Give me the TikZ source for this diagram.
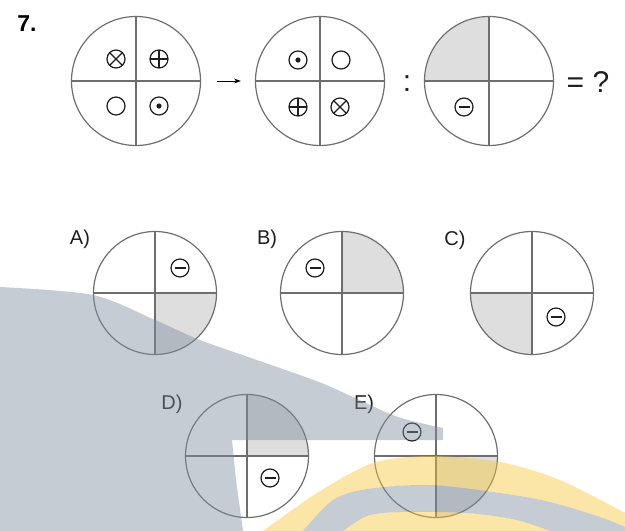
\documentclass[tikz,border=0pt]{standalone}
\usepackage{fontspec}
\setmainfont{Liberation Sans}
\definecolor{discgray}{RGB}{110,110,110}
\definecolor{quadfill}{RGB}{222,222,222}
\definecolor{inkdark}{RGB}{30,30,30}
\definecolor{wmgray}{RGB}{126,142,159}
\definecolor{wmyellow}{RGB}{248,200,60}
\usetikzlibrary{arrows.meta}
\tikzset{
  % Quartered disc (#1 = corner of the shaded quadrant).
  disc/.style={
    circle, draw=discgray, line width=1.2pt, inner sep=0pt,
    path picture={
      \fill[quadfill] (path picture bounding box.center)
        rectangle (path picture bounding box.#1);
      \draw[discgray, line width=1.2pt]
        (path picture bounding box.north) -- (path picture bounding box.south)
        (path picture bounding box.west) -- (path picture bounding box.east);
    },
  },
  disc/.default=center,
  disc-big/.style={minimum size=129pt},
  disc-small/.style={minimum size=123pt},
  % Small symbols inside the quadrants.
  sym/.style={circle, draw=inkdark, line width=1.25pt, minimum size=18pt, inner sep=0pt},
  sym-x/.style={sym, path picture={
      \draw[inkdark, line width=1.2pt]
        (path picture bounding box.north west) -- (path picture bounding box.south east)
        (path picture bounding box.north east) -- (path picture bounding box.south west);}},
  sym-plus/.style={sym, path picture={
      \draw[inkdark, line width=1.2pt]
        (path picture bounding box.north) -- (path picture bounding box.south)
        (path picture bounding box.west) -- (path picture bounding box.east);}},
  sym-dot/.style={sym, path picture={
      \fill[inkdark] (path picture bounding box.center) circle[radius=2.6pt];}},
  sym-minus/.style={sym, path picture={
      \draw[inkdark, line width=1.6pt]
        ([xshift=3.5pt]path picture bounding box.west) -- ([xshift=-3.5pt]path picture bounding box.east);}},
  % Texts.
  opt-label/.style={font=\fontsize{20}{24}\selectfont, text=inkdark, inner sep=0pt},
  big-text/.style={font=\fontsize{30}{34}\selectfont, text=inkdark, inner sep=0pt},
  % Watermark left in the scan.
  mark/.style={fill=#1, opacity=0.45},
}

\begin{document}
\begin{tikzpicture}[x=1pt, y=1pt]
  \useasboundingbox (0,0) rectangle (625,-531);

  % Task number.
  \node[font=\fontsize{23}{26}\selectfont\bfseries, inner sep=0pt] (num) at (27,-24) {7.};

  % Question row.
  \node[disc, disc-big] (q1) at (136,-81) {};
  \node[disc, disc-big] (q2) at (320,-81) {};
  \node[disc=north west, disc-big] (q3) at (489,-81) {};

  \node[sym-x]    (s1a) at (116,-59) {};
  \node[sym-plus] (s1b) at (159,-59) {};
  \node[sym]      (s1c) at (116,-106) {};
  \node[sym-dot]  (s1d) at (159,-106) {};

  \node[sym-dot]  (s2a) at (298,-60) {};
  \node[sym]      (s2b) at (341,-60) {};
  \node[sym-plus] (s2c) at (298,-107) {};
  \node[sym-x]    (s2d) at (340,-107) {};

  \node[sym-minus] (s3c) at (464,-107) {};

  \draw[-{Stealth[length=7pt, width=5pt]}, line width=0.9pt,
    shorten <=16pt, shorten >=14pt] (q1) -- (q2);
  \node[big-text] (colon) at (407,-84) {:};
  \node[big-text] (ask) at (588,-82) {= ?};

  % Answer options.
  \node[disc=south east, disc-small] (optA) at (155,-293) {};
  \node[disc=north east, disc-small] (optB) at (342,-293) {};
  \node[disc=south west, disc-small] (optC) at (532,-293) {};
  \node[disc=north east, disc-small] (optD) at (247,-456) {};
  \node[disc=south east, disc-small] (optE) at (436,-456) {};

  \node[sym-minus] (mA) at (180,-268) {};
  \node[sym-minus] (mB) at (315,-268) {};
  \node[sym-minus] (mC) at (556,-317) {};
  \node[sym-minus] (mD) at (270,-478) {};
  \node[sym-minus] (mE) at (412,-432) {};

  \node[opt-label] (labA) at (80,-239) {A)};
  \node[opt-label] (labB) at (267,-239) {B)};
  \node[opt-label] (labC) at (455,-240) {C)};
  \node[opt-label] (labD) at (172,-404) {D)};
  \node[opt-label] (labE) at (364,-404) {E)};

  % Watermark on top.
  \fill[mark=wmgray]
    plot[smooth, tension=0.5] coordinates {(0,-287) (93,-295) (155,-320) (200,-340)
      (257,-360) (319,-382) (353,-397) (398,-417) (443,-428)}
    -- (443,-440) -- (232,-440) -- (236,-480) -- (243,-531) -- (0,-531) -- cycle;
  \fill[mark=wmyellow, even odd rule]
    plot[smooth, tension=0.5] coordinates {(263,-531) (317,-493) (373,-463) (430,-456)
      (500,-462) (560,-480) (625,-513)}
    -- (625,-531) -- cycle
    plot[smooth, tension=0.5] coordinates {(303,-531) (333,-500) (367,-489) (430,-485)
      (500,-493) (550,-502) (600,-517) (625,-527)}
    -- (625,-531) -- (550,-531)
    -- plot[smooth, tension=0.5] coordinates {(550,-531) (517,-520) (467,-513) (400,-512)
      (367,-516) (343,-531)} -- cycle;
  \fill[mark=wmgray]
    plot[smooth, tension=0.5] coordinates {(303,-531) (333,-500) (367,-489) (430,-485)
      (500,-493) (550,-502) (600,-517) (625,-527)}
    -- (625,-531) -- (550,-531)
    -- plot[smooth, tension=0.5] coordinates {(550,-531) (517,-520) (467,-513) (400,-512)
      (367,-516) (343,-531)} -- cycle;
\end{tikzpicture}
\end{document}
